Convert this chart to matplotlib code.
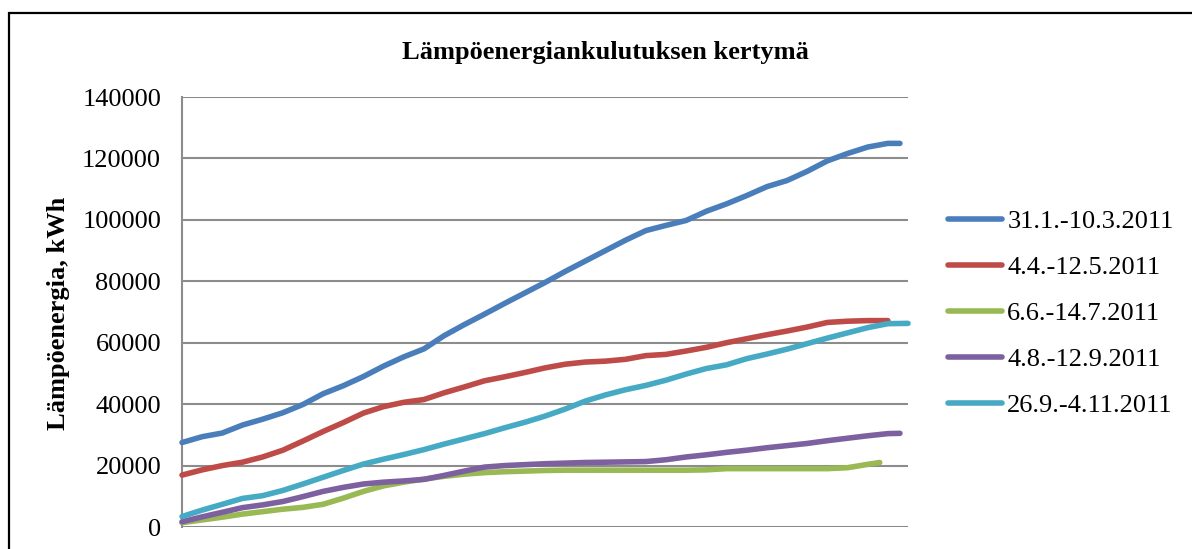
import numpy as np
import matplotlib
matplotlib.use("Agg")
import matplotlib.pyplot as plt
from matplotlib.patches import Rectangle

plt.rcParams['font.family'] = ['Liberation Serif', 'DejaVu Serif']

title = "Lämpöenergiankulutuksen kertymä"
ylabel = "Lämpöenergia, kWh"
labels = ["31.1.-10.3.2011", "4.4.-12.5.2011", "6.6.-14.7.2011",
          "4.8.-12.9.2011", "26.9.-4.11.2011"]
colors = ["#4A7EBB", "#BE4B48", "#98B954", "#7D60A0", "#46AAC5"]

# cumulative heat energy (kWh), sampled along the category axis
s_jan = [27500, 29400, 30600, 33200, 35100, 37200, 39900, 43400, 46000, 49000,
         52400, 55400, 58000, 62300, 65900, 69300, 72800, 76200, 79600, 83200,
         86600, 90000, 93400, 96500, 98200, 99800, 102800, 105200, 107900, 110800,
         112800, 115800, 119200, 121600, 123700, 124900, 124900]
x_jan = list(range(36)) + [35.6]

s_apr = [16900, 18600, 20000, 21100, 22800, 25000, 28000, 31100, 34000, 37100,
         39200, 40600, 41500, 43700, 45600, 47600, 48900, 50300, 51800, 53000,
         53700, 54000, 54600, 55800, 56200, 57300, 58500, 60000, 61300, 62600,
         63800, 65100, 66600, 67000, 67200, 67200]
x_apr = list(range(36))

s_jun = [1400, 2300, 3200, 4200, 5000, 5800, 6400, 7400, 9400, 11600,
         13400, 14600, 15600, 16500, 17200, 17700, 18000, 18200, 18400, 18500,
         18500, 18500, 18500, 18500, 18500, 18500, 18600, 19000, 19000, 19000,
         19000, 19000, 19000, 19300, 20400, 21000]
x_jun = list(range(35)) + [34.6]

s_aug = [1700, 3300, 4800, 6300, 7200, 8300, 9900, 11600, 12900, 14000,
         14600, 15000, 15500, 16800, 18200, 19500, 20000, 20300, 20600, 20800,
         21000, 21100, 21200, 21300, 21900, 22800, 23500, 24300, 25000, 25800,
         26500, 27200, 28100, 28900, 29700, 30400, 30500]
x_aug = list(range(36)) + [35.6]

s_sep = [3400, 5500, 7400, 9300, 10200, 11900, 14000, 16200, 18400, 20500,
         22100, 23600, 25200, 27000, 28700, 30400, 32300, 34100, 36100, 38400,
         41000, 43000, 44700, 46100, 47800, 49800, 51600, 52800, 54800, 56300,
         57900, 59700, 61500, 63200, 64900, 66200, 66300]
x_sep = list(range(37))

series = [(x_jan, s_jan), (x_apr, s_apr), (x_jun, s_jun), (x_aug, s_aug), (x_sep, s_sep)]
yticks = [0, 20000, 40000, 60000, 80000, 100000, 120000, 140000]

W, H = 1192, 549
fig = plt.figure(figsize=(W / 100, H / 100), dpi=100)
fig.patch.set_facecolor("white")

# outer chart border (cropped at right and bottom)
fig.add_artist(Rectangle((9 / W, -0.2), 1.2, 1 - 13 / H + 0.2, transform=fig.transFigure,
                         fill=False, edgecolor="black", linewidth=1.6))

ax = fig.add_axes([182 / W, 1 - 527 / H, (908 - 182) / W, (527 - 97) / H])
ax.set_facecolor("none")

for (xs, ys), c, lab in zip(series, colors, labels):
    ax.plot(xs, ys, color=c, linewidth=4.0, solid_capstyle="round",
            solid_joinstyle="round", label=lab, clip_on=False, zorder=3)

ax.set_xlim(0, 36)
ax.set_ylim(0, 140000)
ax.set_yticks(yticks)
ax.set_yticklabels([str(v) for v in yticks])
ax.set_xticks([])
ax.tick_params(axis="y", length=0, pad=15, labelsize=19)
ax.grid(axis="y", color="#8C8C8C", linewidth=1.5, zorder=0)
ax.set_axisbelow(True)
for side in ["top", "right", "bottom"]:
    ax.spines[side].set_visible(False)
ax.spines["left"].set_color("#8C8C8C")
ax.spines["left"].set_linewidth(1.5)

fig.text(58 / W, 1 - 313 / H, ylabel, rotation=90, ha="center", va="center",
         fontsize=19, fontweight="bold")
fig.text(605 / W, 1 - 52 / H, title, ha="center", va="center",
         fontsize=19, fontweight="bold")

leg = fig.legend(loc="upper left", bbox_to_anchor=(948 / W, 1 - 210 / H),
                 frameon=False, fontsize=19, handlelength=2.05, handletextpad=0.2,
                 labelspacing=0.85, borderpad=0, borderaxespad=0)

fig.savefig("out.png", dpi=100, facecolor="white")
